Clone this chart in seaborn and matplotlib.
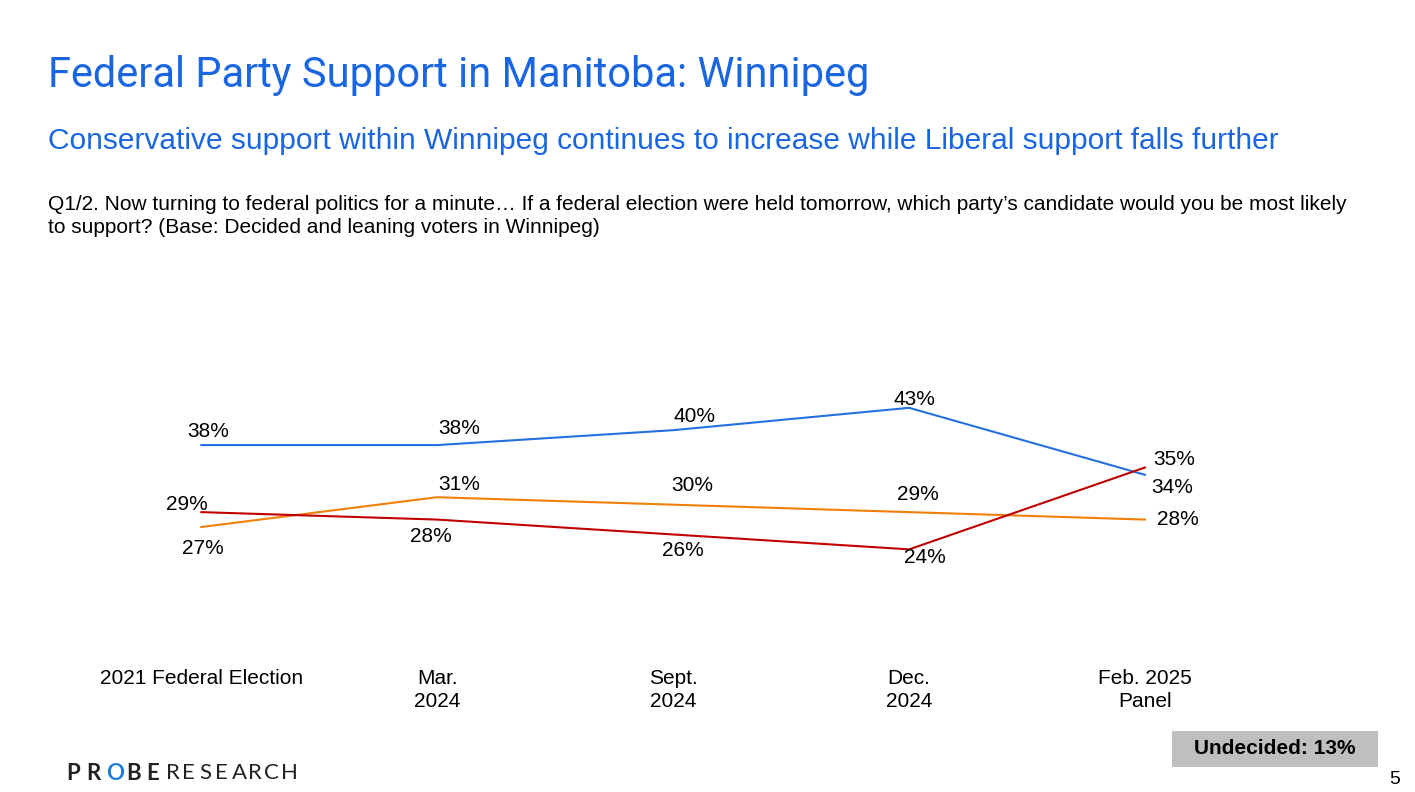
import pandas as pd
import seaborn as sns
import matplotlib.pyplot as plt
from matplotlib.patches import Rectangle

# chart data
periods = ["2021 Federal Election", "Mar.\n2024", "Sept.\n2024", "Dec.\n2024", "Feb. 2025\nPanel"]
conservative = [38, 38, 40, 43, 34]
ndp = [27, 31, 30, 29, 28]
liberal = [29, 28, 26, 24, 35]
parties = ["Conservative", "NDP", "Liberal"]
colors = {"Conservative": "#2470E0", "NDP": "#F07F09", "Liberal": "#C00000"}

# label offsets in pixels (dx, dy) for each point
offsets = {
    "Conservative": [(7, 14), (22, 17), (21, 14), (5, 8), (27, -13)],
    "NDP": [(2, -21), (22, 13), (19, 19), (9, 18), (33, 0)],
    "Liberal": [(-14, 8), (-6, -17), (10, -16), (16, -8), (29, 8)],
}

df = pd.DataFrame({
    "period": periods * 3,
    "party": [p for p in parties for _ in periods],
    "share": conservative + ndp + liberal,
})

sns.set_style("white")
plt.rcParams["font.family"] = ["Liberation Sans", "DejaVu Sans"]
plt.rcParams["text.color"] = "black"

fig = plt.figure(figsize=(14.15, 7.92), dpi=100)
ax = fig.add_axes([0.0587, 0.2217, 0.834, 0.3292])

sns.lineplot(data=df, x="period", y="share", hue="party", palette=colors,
             sort=False, linewidth=1.5, legend=False, ax=ax)

for party in parties:
    sub = df[df.party == party].reset_index(drop=True)
    for i, row in sub.iterrows():
        ax.annotate(f"{row.share}%", (i, row.share), xytext=offsets[party][i],
                    textcoords="offset pixels", ha="center", va="center",
                    fontsize=15, color="black")

ax.set_xlim(-0.5, 4.5)
ax.set_ylim(15, 50)
ax.set_yticks([])
ax.set_xlabel("")
ax.set_ylabel("")
ax.tick_params(axis="x", length=0, pad=38, labelsize=15, labelcolor="black")
for lbl in ax.get_xticklabels():
    lbl.set_linespacing(1.28)
sns.despine(ax=ax, left=True, bottom=True)

# titles
fig.text(48 / 1415, 1 - 75 / 792, "Federal Party Support in Manitoba: Winnipeg",
         fontsize=30, color="#1A66E0", family="Roboto", va="center", ha="left")
fig.text(48 / 1415, 1 - 141 / 792,
         "Conservative support within Winnipeg continues to increase while Liberal support falls further",
         fontsize=21.5, color="#1A66E0", va="center", ha="left")
fig.text(48 / 1415, 1 - 216 / 792,
         "Q1/2. Now turning to federal politics for a minute\u2026 If a federal election were held tomorrow, which party\u2019s candidate would you be most likely\n"
         "to support? (Base: Decided and leaning voters in Winnipeg)",
         fontsize=15, color="black", va="center", ha="left", linespacing=1.3)

# undecided box
fig.patches.append(Rectangle((1172 / 1415, 1 - 767 / 792), 206 / 1415, 36 / 792,
                             transform=fig.transFigure, facecolor="#BFBFBF", edgecolor="none"))
fig.text(1275 / 1415, 1 - 749 / 792, "Undecided: 13%", fontsize=15, fontweight="bold",
         ha="center", va="center", color="black")
fig.text(1395 / 1415, 1 - 779 / 792, "5", fontsize=14, ha="center", va="center", color="black")

# logo
x = 66
for ch in "PROBE":
    fig.text(x / 1415, 1 - 773 / 792, ch, fontsize=16, fontweight="bold", family="Lato",
             color="#1E7BE0" if ch == "O" else "#222222", ha="left", va="center")
    x += 20
x = 166
for ch in "RESEARCH":
    fig.text(x / 1415, 1 - 773 / 792, ch, fontsize=16, family="Lato",
             color="#222222", ha="left", va="center")
    x += 16.4

fig.savefig("out.png", dpi=100)
